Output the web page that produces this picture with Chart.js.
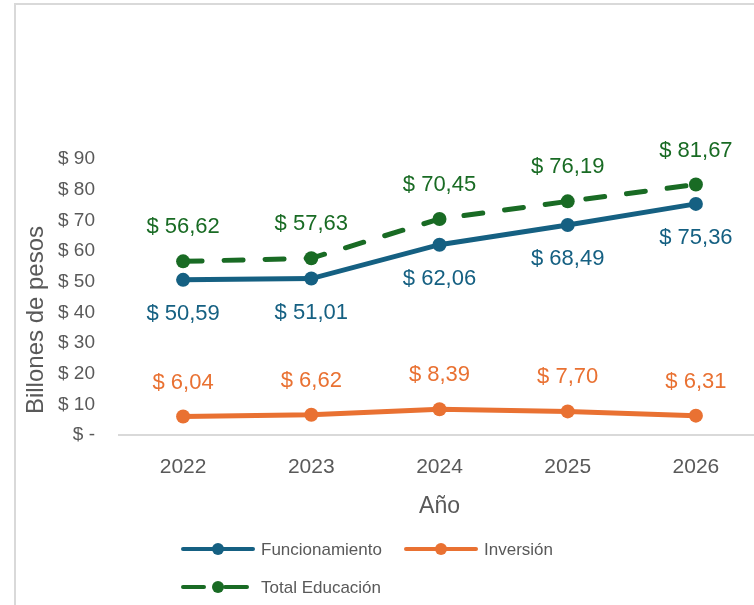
<!DOCTYPE html>
<html>
<head>
<meta charset="utf-8">
<script src="https://cdn.jsdelivr.net/npm/chart.js@4/dist/chart.umd.min.js"></script>
<style>
  html, body { margin: 0; padding: 0; background: #fff; overflow: hidden; }
  #wrap { position: absolute; left: 0; top: 0; width: 780px; height: 605px; }
  #marco { position: absolute; left: 14px; top: 3px; width: 760px; height: 620px;
           border-left: 2px solid #d9d9d9; border-top: 2px solid #d9d9d9; pointer-events: none; }
</style>
</head>
<body>
<div id="wrap"><canvas id="grafica"></canvas></div>
<div id="marco"></div>
<script>
// Presupuesto de educacion 2022-2026, billones de pesos
var anios = ['2022', '2023', '2024', '2025', '2026'];
var funcionamiento = [50.59, 51.01, 62.06, 68.49, 75.36];
var inversion = [6.04, 6.62, 8.39, 7.70, 6.31];
var totalEducacion = [56.62, 57.63, 70.45, 76.19, 81.67];
var ticksY = [0, 10, 20, 30, 40, 50, 60, 70, 80, 90];

var azul = '#156082';
var naranja = '#E97132';
var verde = '#196B24';
var gris = '#595959';
var fuente = "'Liberation Sans', Arial, sans-serif";

function pesos(v) {
  return '$ ' + v.toFixed(2).replace('.', ',');
}

// etiquetas de datos (arriba o abajo del punto)
var etiquetas = {
  id: 'etiquetas',
  afterDatasetsDraw: function (chart) {
    var ctx = chart.ctx;
    ctx.save();
    ctx.font = '22px ' + fuente;
    ctx.textAlign = 'center';
    ctx.textBaseline = 'middle';
    chart.data.datasets.forEach(function (ds, i) {
      var meta = chart.getDatasetMeta(i);
      ctx.fillStyle = ds.borderColor;
      meta.data.forEach(function (p, j) {
        var dy = ds.etiquetaAbajo ? 34 : -34;
        ctx.fillText(pesos(ds.data[j]), p.x, p.y + dy);
      });
    });
    ctx.restore();
  }
};

// leyenda a mano, como la de Excel (linea con punto al medio)
var leyenda = {
  id: 'leyenda',
  afterDraw: function (chart) {
    var ctx = chart.ctx;
    var items = [
      { ds: 0, x: 183, y: 549 },
      { ds: 1, x: 406, y: 549 },
      { ds: 2, x: 183, y: 587 }
    ];
    ctx.save();
    items.forEach(function (it) {
      var ds = chart.data.datasets[it.ds];
      ctx.strokeStyle = ds.borderColor;
      ctx.fillStyle = ds.borderColor;
      ctx.lineWidth = 4;
      ctx.lineCap = 'round';
      ctx.beginPath();
      if (ds.borderDash && ds.borderDash.length) {
        ctx.moveTo(it.x, it.y); ctx.lineTo(it.x + 21, it.y);
        ctx.moveTo(it.x + 42, it.y); ctx.lineTo(it.x + 64, it.y);
      } else {
        ctx.moveTo(it.x, it.y); ctx.lineTo(it.x + 70, it.y);
      }
      ctx.stroke();
      ctx.beginPath();
      ctx.arc(it.x + 35, it.y, 6, 0, Math.PI * 2);
      ctx.fill();
      ctx.fillStyle = gris;
      ctx.font = '17px ' + fuente;
      ctx.textAlign = 'left';
      ctx.textBaseline = 'middle';
      ctx.fillText(ds.label, it.x + 78, it.y + 1);
    });
    // titulo eje Y
    ctx.translate(36, 320);
    ctx.rotate(-Math.PI / 2);
    ctx.font = '24px ' + fuente;
    ctx.textAlign = 'center';
    ctx.textBaseline = 'middle';
    ctx.fillText('Billones de pesos', 0, 0);
    ctx.restore();
  }
};

new Chart(document.getElementById('grafica'), {
  type: 'line',
  data: {
    labels: anios,
    datasets: [{
      label: 'Funcionamiento',
      data: funcionamiento,
      borderColor: azul,
      backgroundColor: azul,
      borderWidth: 5,
      pointRadius: 7,
      pointBorderWidth: 0,
      etiquetaAbajo: true
    }, {
      label: 'Inversión',
      data: inversion,
      borderColor: naranja,
      backgroundColor: naranja,
      borderWidth: 5,
      pointRadius: 7,
      pointBorderWidth: 0
    }, {
      label: 'Total Educación',
      data: totalEducacion,
      borderColor: verde,
      backgroundColor: verde,
      borderWidth: 5,
      borderDash: [19, 22],
      borderCapStyle: 'round',
      pointRadius: 7,
      pointBorderWidth: 0
    }]
  },
  options: {
    responsive: true,
    maintainAspectRatio: false,
    animation: false,
    layout: { padding: { top: 159, right: 20, left: 0, bottom: 70 } },
    plugins: {
      legend: { display: false },
      tooltip: { enabled: false }
    },
    scales: {
      x: {
        offset: true,
        grid: { display: false, drawTicks: false },
        border: { display: true, color: '#d9d9d9', width: 2 },
        ticks: { color: gris, padding: 20, font: { family: fuente, size: 21 } },
        title: { display: true, text: 'Año', color: gris, font: { family: fuente, size: 23 }, padding: { top: 0, bottom: 15 } },
        afterFit: function (s) { s.height = 100; }
      },
      y: {
        min: 0,
        max: 90,
        grid: { display: false, drawTicks: false },
        border: { display: false },
        afterBuildTicks: function (s) { s.ticks = ticksY.map(function (v) { return { value: v }; }); },
        ticks: {
          color: gris,
          padding: 24,
          font: { family: fuente, size: 19 },
          callback: function (v) { return v === 0 ? '$ -' : '$ ' + v; }
        },
        afterFit: function (s) { s.width = 119; }
      }
    }
  },
  plugins: [etiquetas, leyenda]
});
</script>
</body>
</html>
